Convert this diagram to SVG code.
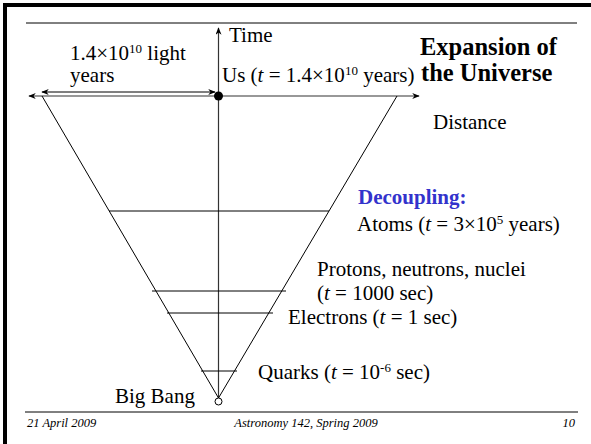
<svg xmlns="http://www.w3.org/2000/svg" width="591" height="444" viewBox="0 0 591 444">
<defs>
<marker id="ah" viewBox="0 0 10 8" refX="9" refY="4" markerWidth="8" markerHeight="6" markerUnits="userSpaceOnUse" orient="auto-start-reverse">
<path d="M0,0 L10,4 L0,8 L3,4 z" fill="#000"/>
</marker>
</defs>
<style>
.t{font-family:"Liberation Serif",serif;font-size:21px;fill:#000}
.b{font-weight:bold}
.h{font-size:24.5px}
.ft{font-family:"Liberation Serif",serif;font-size:12.5px;font-style:italic;fill:#000}
.ln{stroke:#000;stroke-width:1;fill:none}
.ax{stroke:#333;stroke-width:1.2;fill:none}
</style>
<rect width="591" height="444" fill="#fff"/>
<g id="frame">
<rect x="3" y="3" width="588" height="4" fill="#000"/>
<rect x="3" y="3" width="4" height="441" fill="#000"/>
<line x1="26" y1="23" x2="577" y2="23" class="ln" stroke-width="1.5"/>
<line x1="25" y1="412" x2="578" y2="412" class="ln" stroke-width="1.5"/>
</g>
<g id="connectors">
<line x1="218.5" y1="398" x2="218.5" y2="28" class="ax" marker-end="url(#ah)"/>
<line x1="218" y1="96" x2="29" y2="96" class="ax" marker-end="url(#ah)"/>
<line x1="218" y1="96" x2="419" y2="96" class="ax" marker-end="url(#ah)"/>
<line x1="42" y1="92" x2="215" y2="92" class="ln" marker-start="url(#ah)" marker-end="url(#ah)"/>
<line x1="42" y1="96" x2="218.5" y2="398" class="ln"/>
<line x1="397" y1="96" x2="218.5" y2="398" class="ln"/>
</g>
<g id="bars">
<line x1="109" y1="211" x2="329" y2="211" class="ln"/>
<line x1="152" y1="291" x2="286" y2="291" class="ln"/>
<line x1="167" y1="313" x2="273" y2="313" class="ln"/>
<line x1="201" y1="371" x2="237" y2="371" class="ln"/>
</g>
<g id="us">
<circle cx="218.5" cy="96" r="4.5" fill="#000"/>
<text class="t" x="222" y="82">Us (<tspan font-style="italic">t</tspan> = 1.4×10<tspan font-size="13" dy="-7">10</tspan><tspan dy="7"> years)</tspan></text>
</g>
<g id="bigbang">
<circle cx="218.5" cy="401.5" r="3.5" fill="#fff" stroke="#000" stroke-width="1"/>
<text class="t" x="115" y="403">Big Bang</text>
</g>
<g id="labels">
<text class="t" x="229" y="42">Time</text>
<text class="t" x="70" y="60">1.4×10<tspan font-size="13" dy="-7">10</tspan><tspan dy="7"> light</tspan></text>
<text class="t" x="70" y="82">years</text>
<text class="t b h" x="420" y="55">Expansion of</text>
<text class="t b h" x="421" y="81">the Universe</text>
<text class="t" x="433" y="129">Distance</text>
</g>
<g id="atoms">
<text class="t b" x="358" y="204" style="fill:#3333cc">Decoupling:</text>
<text class="t" x="357" y="231">Atoms (<tspan font-style="italic">t</tspan> = 3×10<tspan font-size="13" dy="-7">5</tspan><tspan dy="7"> years)</tspan></text>
</g>
<g id="protons">
<text class="t" x="317" y="276">Protons, neutrons, nuclei</text>
<text class="t" x="317" y="300">(<tspan font-style="italic">t</tspan> = 1000 sec)</text>
</g>
<g id="electrons">
<text class="t" x="288" y="324">Electrons (<tspan font-style="italic">t</tspan> = 1 sec)</text>
</g>
<g id="quarks">
<text class="t" x="258" y="379">Quarks (<tspan font-style="italic">t</tspan> = 10<tspan font-size="13" dy="-7">-6</tspan><tspan dy="7"> sec)</tspan></text>
</g>
<g id="footer">
<text class="ft" x="27" y="427">21 April 2009</text>
<text class="ft" x="306" y="427" text-anchor="middle">Astronomy 142, Spring 2009</text>
<text class="ft" x="575" y="427" text-anchor="end">10</text>
</g>
</svg>
